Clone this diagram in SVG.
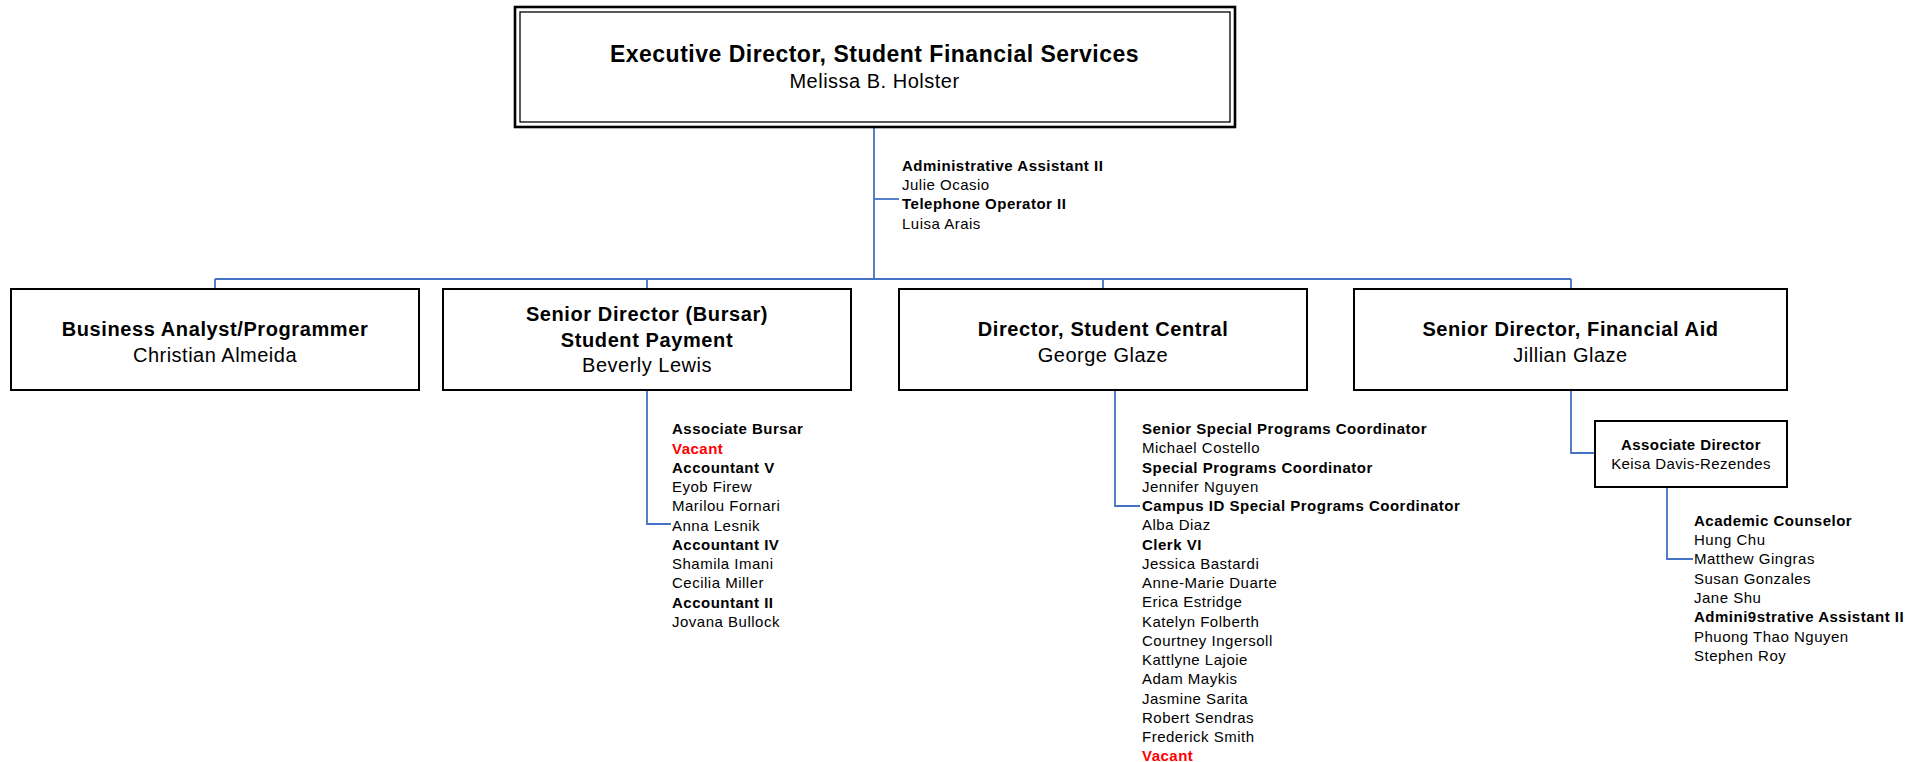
<svg xmlns="http://www.w3.org/2000/svg" width="1925" height="762" viewBox="0 0 1925 762">
<style>
text{font-family:"Liberation Sans",Arial,sans-serif;fill:#000}
.box{fill:#fff;stroke:#000;stroke-width:2}
.t{font-size:20px;font-weight:bold;letter-spacing:0.6px;text-anchor:middle}
.n{font-size:20px;letter-spacing:0.5px;text-anchor:middle}
.lst{font-size:15px;letter-spacing:0.5px}
.b{font-weight:bold}
.v{font-weight:bold;fill:#ff0000}
.conn path{fill:none;stroke:#4472C4;stroke-width:1.8}
</style>
<g class="conn" id="connectors">
<path d="M874,127 V279"/>
<path d="M874,199 H899"/>
<path d="M215,279 H1571"/>
<path d="M215,279 V289 M647,279 V289 M1103,279 V289 M1571,279 V289"/>
<path d="M647,390 V524 H671"/>
<path d="M1115,390 V506 H1140"/>
<path d="M1571,390 V453 H1595"/>
<path d="M1667,487 V559 H1693"/>
</g>
<g id="exec">
<rect x="515" y="7" width="720" height="120" fill="#fff" stroke="#000" stroke-width="2.6"/>
<rect x="520" y="12" width="710" height="110" fill="none" stroke="#000" stroke-width="1.3"/>
<text x="874.5" y="62" style="font-size:23px;font-weight:bold;letter-spacing:0.5px;text-anchor:middle">Executive Director, Student Financial Services</text>
<text x="874.5" y="88" class="n">Melissa B. Holster</text>
</g>
<g id="exec-staff">
<text class="lst" x="902" y="170.5"><tspan class="b">Administrative Assistant II</tspan><tspan x="902" dy="19.4">Julie Ocasio</tspan><tspan x="902" dy="19.4" class="b">Telephone Operator II</tspan><tspan x="902" dy="19.4">Luisa Arais</tspan></text>
</g>
<g id="analyst">
<rect class="box" x="11" y="289" width="408" height="101"/>
<text class="t" x="215" y="335.5">Business Analyst/Programmer</text>
<text class="n" x="215" y="362">Christian Almeida</text>
</g>
<g id="bursar">
<rect class="box" x="443" y="289" width="408" height="101"/>
<text class="t" x="647" y="321">Senior Director (Bursar)</text>
<text class="t" x="647" y="346.5">Student Payment</text>
<text class="n" x="647" y="372">Beverly Lewis</text>
</g>
<g id="bursar-staff">
<text class="lst" x="672" y="434.3"><tspan class="b">Associate Bursar</tspan><tspan x="672" dy="19.25" class="v">Vacant</tspan><tspan x="672" dy="19.25" class="b">Accountant V</tspan><tspan x="672" dy="19.25">Eyob Firew</tspan><tspan x="672" dy="19.25">Marilou Fornari</tspan><tspan x="672" dy="19.25">Anna Lesnik</tspan><tspan x="672" dy="19.25" class="b">Accountant IV</tspan><tspan x="672" dy="19.25">Shamila Imani</tspan><tspan x="672" dy="19.25">Cecilia Miller</tspan><tspan x="672" dy="19.25" class="b">Accountant II</tspan><tspan x="672" dy="19.25">Jovana Bullock</tspan></text>
</g>
<g id="central">
<rect class="box" x="899" y="289" width="408" height="101"/>
<text class="t" x="1103" y="335.5">Director, Student Central</text>
<text class="n" x="1103" y="362">George Glaze</text>
</g>
<g id="central-staff">
<text class="lst" x="1142" y="434"><tspan class="b">Senior Special Programs Coordinator</tspan><tspan x="1142" dy="19.25">Michael Costello</tspan><tspan x="1142" dy="19.25" class="b">Special Programs Coordinator</tspan><tspan x="1142" dy="19.25">Jennifer Nguyen</tspan><tspan x="1142" dy="19.25" class="b">Campus ID Special Programs Coordinator</tspan><tspan x="1142" dy="19.25">Alba Diaz</tspan><tspan x="1142" dy="19.25" class="b">Clerk VI</tspan><tspan x="1142" dy="19.25">Jessica Bastardi</tspan><tspan x="1142" dy="19.25">Anne-Marie Duarte</tspan><tspan x="1142" dy="19.25">Erica Estridge</tspan><tspan x="1142" dy="19.25">Katelyn Folberth</tspan><tspan x="1142" dy="19.25">Courtney Ingersoll</tspan><tspan x="1142" dy="19.25">Kattlyne Lajoie</tspan><tspan x="1142" dy="19.25">Adam Maykis</tspan><tspan x="1142" dy="19.25">Jasmine Sarita</tspan><tspan x="1142" dy="19.25">Robert Sendras</tspan><tspan x="1142" dy="19.25">Frederick Smith</tspan><tspan x="1142" dy="19.25" class="v">Vacant</tspan></text>
</g>
<g id="finaid">
<rect class="box" x="1354" y="289" width="433" height="101"/>
<text class="t" x="1570.5" y="335.5">Senior Director, Financial Aid</text>
<text class="n" x="1570.5" y="362">Jillian Glaze</text>
</g>
<g id="assoc-director">
<rect class="box" x="1595" y="421" width="192" height="66"/>
<text x="1691" y="450" style="font-size:15px;font-weight:bold;letter-spacing:0.4px;text-anchor:middle">Associate Director</text>
<text x="1691" y="469" style="font-size:15px;letter-spacing:0.4px;text-anchor:middle">Keisa Davis-Rezendes</text>
</g>
<g id="finaid-staff">
<text class="lst" x="1694" y="525.7"><tspan class="b">Academic Counselor</tspan><tspan x="1694" dy="19.3">Hung Chu</tspan><tspan x="1694" dy="19.3">Matthew Gingras</tspan><tspan x="1694" dy="19.3">Susan Gonzales</tspan><tspan x="1694" dy="19.3">Jane Shu</tspan><tspan x="1694" dy="19.3" class="b">Admini9strative Assistant II</tspan><tspan x="1694" dy="19.3">Phuong Thao Nguyen</tspan><tspan x="1694" dy="19.3">Stephen Roy</tspan></text>
</g>
</svg>
